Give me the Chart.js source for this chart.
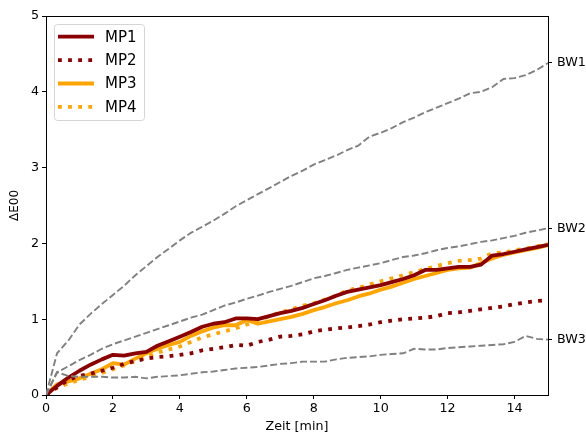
<!DOCTYPE html>
<html>
<head>
<meta charset="utf-8">
<script src="https://cdn.jsdelivr.net/npm/chart.js@4"></script>
<style>
  html, body { margin: 0; padding: 0; background: #fff; }
  #wrap { width: 586px; height: 436px; }
</style>
</head>
<body>
<div id="wrap"><canvas id="chart" width="586" height="436"></canvas></div>
<script>
// Time axis [min], shared by all series
const timeMin = [0, 0.33, 0.67, 1, 1.33, 1.67, 2, 2.33, 2.67, 3, 3.33, 3.67, 4, 4.33, 4.67,
  5, 5.33, 5.67, 6, 6.33, 6.67, 7, 7.33, 7.67, 8, 8.33, 8.67, 9, 9.33, 9.67,
  10, 10.33, 10.67, 11, 11.33, 11.67, 12, 12.33, 12.67, 13, 13.33, 13.67, 14, 14.33, 14.67, 15];

// Measurement points
const mp1 = [0, 0.12, 0.23, 0.32, 0.40, 0.47, 0.53, 0.52, 0.55, 0.57, 0.65, 0.71, 0.77, 0.83, 0.90,
  0.94, 0.96, 1.01, 1.01, 1.00, 1.04, 1.08, 1.11, 1.15, 1.20, 1.25, 1.31, 1.36, 1.39, 1.42,
  1.45, 1.49, 1.53, 1.58, 1.65, 1.65, 1.67, 1.69, 1.69, 1.72, 1.84, 1.86, 1.89, 1.92, 1.95, 1.98];
const mp2 = [0, 0.10, 0.20, 0.25, 0.28, 0.32, 0.36, 0.41, 0.45, 0.48, 0.50, 0.51, 0.53, 0.55, 0.59,
  0.61, 0.63, 0.66, 0.65, 0.70, 0.73, 0.77, 0.78, 0.80, 0.84, 0.86, 0.88, 0.89, 0.91, 0.93,
  0.96, 0.98, 1.00, 1.01, 1.02, 1.04, 1.08, 1.09, 1.11, 1.13, 1.15, 1.17, 1.20, 1.22, 1.24, 1.25];
const mp3 = [0, 0.14, 0.18, 0.22, 0.28, 0.34, 0.42, 0.40, 0.48, 0.55, 0.61, 0.66, 0.70, 0.78, 0.84,
  0.89, 0.92, 0.92, 0.99, 0.94, 0.97, 1.00, 1.03, 1.07, 1.12, 1.16, 1.21, 1.25, 1.30, 1.34,
  1.39, 1.43, 1.48, 1.53, 1.57, 1.61, 1.65, 1.67, 1.68, 1.74, 1.80, 1.85, 1.88, 1.91, 1.94, 1.98];
const mp4 = [0, 0.10, 0.15, 0.20, 0.24, 0.29, 0.34, 0.39, 0.45, 0.50, 0.56, 0.60, 0.64, 0.70, 0.76,
  0.80, 0.84, 0.88, 0.93, 0.98, 1.04, 1.09, 1.13, 1.18, 1.21, 1.26, 1.31, 1.38, 1.41, 1.46,
  1.50, 1.54, 1.58, 1.62, 1.66, 1.70, 1.74, 1.77, 1.78, 1.80, 1.87, 1.88, 1.91, 1.93, 1.96, 1.99];

// Reference curves
const bw1 = [0, 0.55, 0.72, 0.93, 1.07, 1.20, 1.32, 1.44, 1.58, 1.70, 1.82, 1.93, 2.04, 2.14, 2.22,
  2.30, 2.39, 2.49, 2.57, 2.65, 2.73, 2.81, 2.89, 2.96, 3.04, 3.10, 3.16, 3.23, 3.29, 3.41,
  3.46, 3.52, 3.60, 3.66, 3.73, 3.79, 3.85, 3.91, 3.98, 4.00, 4.06, 4.17, 4.18, 4.22, 4.29, 4.38];
const bw2 = [0, 0.30, 0.38, 0.46, 0.53, 0.61, 0.67, 0.72, 0.77, 0.82, 0.87, 0.92, 0.97, 1.02, 1.06,
  1.12, 1.18, 1.22, 1.27, 1.31, 1.36, 1.40, 1.44, 1.49, 1.54, 1.57, 1.61, 1.65, 1.68, 1.71,
  1.74, 1.78, 1.82, 1.84, 1.87, 1.91, 1.94, 1.96, 1.99, 2.02, 2.04, 2.07, 2.10, 2.14, 2.17, 2.20];
const bw3 = [0, 0.30, 0.25, 0.24, 0.24, 0.24, 0.23, 0.23, 0.24, 0.22, 0.24, 0.25, 0.26, 0.28, 0.30,
  0.31, 0.33, 0.35, 0.36, 0.37, 0.39, 0.41, 0.42, 0.44, 0.44, 0.44, 0.47, 0.49, 0.50, 0.51,
  0.53, 0.54, 0.55, 0.61, 0.60, 0.60, 0.62, 0.63, 0.64, 0.65, 0.66, 0.67, 0.70, 0.78, 0.74, 0.73];

const xTicks = [0, 2, 4, 6, 8, 10, 12, 14];
const yTicks = [0, 1, 2, 3, 4, 5];
const bwLabels = ['BW1', 'BW2', 'BW3'];
const bwEnds = [bw1[bw1.length - 1], bw2[bw2.length - 1], bw3[bw3.length - 1]];

function toPoints(values) {
    return values.map((v, i) => ({ x: timeMin[i], y: v }));
}

const DARKRED = '#8b0000';
const ORANGE = '#ffa500';
const GREY = '#808080';

function bwSet(values) {
    return {
        label: '', data: toPoints(values), borderColor: GREY, borderWidth: 1.9,
        borderDash: [7, 3], pointRadius: 0, fill: false, tension: 0, inLegend: false
    };
}

function mpSet(label, values, color, dotted) {
    return {
        label: label, data: toPoints(values), borderColor: color, borderWidth: 3.8,
        borderDash: dotted ? [3.8, 6.3] : [], borderCapStyle: 'butt', borderJoinStyle: 'round',
        pointRadius: 0, fill: false, tension: 0, inLegend: true
    };
}

// Legend drawn inside the plot, top left, like matplotlib
const innerLegend = {
    id: 'innerLegend',
    afterDraw(chart) {
        const ctx = chart.ctx;
        const items = chart.data.datasets.filter(d => d.inLegend);
        const x0 = 54, y0 = 24, w = 90, h = 96, rowH = 23.4;
        ctx.save();
        ctx.beginPath();
        ctx.roundRect(x0 + 0.5, y0 + 0.5, w, h, 3);
        ctx.fillStyle = 'rgba(255,255,255,0.8)';
        ctx.fill();
        ctx.strokeStyle = '#d5d5d5';
        ctx.lineWidth = 1;
        ctx.stroke();
        ctx.font = '15px "DejaVu Sans"';
        ctx.textBaseline = 'middle';
        items.forEach((d, i) => {
            const cy = y0 + 12.7 + i * rowH;
            ctx.beginPath();
            ctx.setLineDash(d.borderDash);
            ctx.lineCap = 'butt';
            ctx.strokeStyle = d.borderColor;
            ctx.lineWidth = d.borderWidth;
            ctx.moveTo(58, cy);
            ctx.lineTo(94, cy);
            ctx.stroke();
            ctx.setLineDash([]);
            ctx.fillStyle = '#000';
            ctx.fillText(d.label, 105, cy + 1);
        });
        ctx.restore();
    }
};

const tickGrid = { drawOnChartArea: false, drawTicks: true, tickLength: 4, color: '#000', tickWidth: 1 };
const frame = { display: true, color: '#000', width: 1 };

new Chart(document.getElementById('chart'), {
    type: 'line',
    data: {
        datasets: [
            bwSet(bw1), bwSet(bw2), bwSet(bw3),
            mpSet('MP1', mp1, DARKRED, false),
            mpSet('MP2', mp2, DARKRED, true),
            mpSet('MP3', mp3, ORANGE, false),
            mpSet('MP4', mp4, ORANGE, true)
        ]
    },
    options: {
        responsive: false,
        animation: false,
        layout: { padding: 0 },
        plugins: { legend: { display: false }, tooltip: { enabled: false } },
        scales: {
            x: {
                type: 'linear', position: 'bottom', min: 0, max: 15,
                afterBuildTicks: axis => { axis.ticks = xTicks.map(v => ({ value: v })); },
                afterFit: axis => { axis.height = 41; },
                ticks: { color: '#000', font: { family: 'DejaVu Sans', size: 12.7 }, padding: 2, maxRotation: 0 },
                grid: tickGrid, border: frame,
                title: { display: true, text: 'Zeit [min]', color: '#000',
                    font: { family: 'DejaVu Sans', size: 12.7 }, padding: { top: 0, bottom: 2 } }
            },
            xTop: {
                type: 'linear', position: 'top', min: 0, max: 15,
                afterFit: axis => { axis.height = 16; },
                ticks: { display: false },
                grid: { drawOnChartArea: false, drawTicks: false }, border: frame
            },
            y: {
                type: 'linear', position: 'left', min: 0, max: 5,
                afterBuildTicks: axis => { axis.ticks = yTicks.map(v => ({ value: v })); },
                afterFit: axis => { axis.width = 46; },
                ticks: { color: '#000', font: { family: 'DejaVu Sans', size: 12.7 }, padding: 3 },
                grid: tickGrid, border: frame,
                title: { display: true, text: 'ΔE00', color: '#000',
                    font: { family: 'DejaVu Sans', size: 12 }, padding: { top: 8, bottom: 0 } }
            },
            yRight: {
                type: 'linear', position: 'right', min: 0, max: 5,
                afterBuildTicks: axis => { axis.ticks = bwEnds.map(v => ({ value: v })); },
                afterFit: axis => { axis.width = 38; },
                ticks: {
                    color: '#000', font: { family: 'DejaVu Sans', size: 12.7 }, padding: 5,
                    callback: (v, i) => bwLabels[i]
                },
                grid: tickGrid, border: frame
            }
        }
    },
    plugins: [innerLegend]
});
</script>
</body>
</html>
